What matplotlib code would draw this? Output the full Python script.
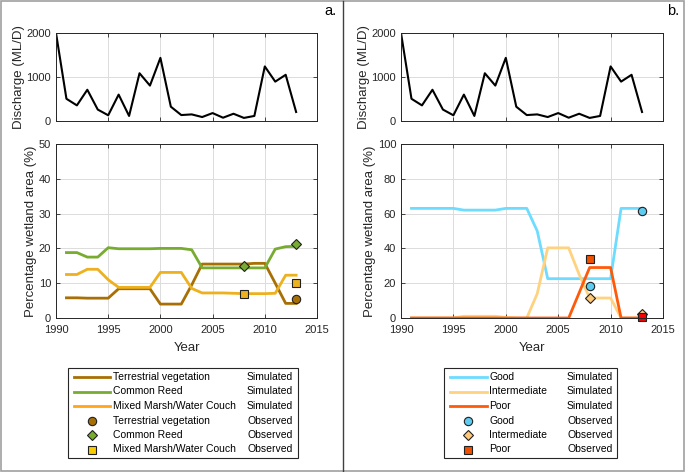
import numpy as np
import matplotlib
matplotlib.use('Agg')
import matplotlib.pyplot as plt
from matplotlib.lines import Line2D
from matplotlib.patches import Rectangle

plt.rcParams['font.family'] = ['Liberation Sans', 'DejaVu Sans']

# discharge, 1990-2013
q_years = np.arange(1990, 2014)
discharge = [2000, 505, 355, 710, 260, 130, 600, 115, 1085, 805, 1435, 325,
             135, 150, 90, 180, 75, 165, 70, 115, 1240, 895, 1050, 205]

# simulated wetland area, 1991-2013
sim_years = np.arange(1991, 2014)
terrestrial = [5.8, 5.8, 5.7, 5.7, 5.7, 8.4, 8.4, 8.4, 8.4, 4.0, 4.0, 4.0,
               9.5, 15.5, 15.5, 15.5, 15.5, 15.5, 15.7, 15.7, 10.0, 4.2, 4.2]
common_reed = [18.8, 18.8, 17.5, 17.5, 20.2, 19.9, 19.9, 19.9, 19.9, 20.0, 20.0, 20.0,
               19.6, 14.4, 14.4, 14.4, 14.4, 14.4, 14.4, 14.4, 19.8, 20.5, 20.6]
mixed_marsh = [12.5, 12.5, 14.0, 14.0, 11.0, 8.8, 8.8, 8.8, 8.8, 13.1, 13.1, 13.1,
               8.5, 7.2, 7.2, 7.2, 7.1, 7.0, 7.0, 7.0, 7.1, 12.3, 12.3]

good = [63, 63, 63, 63, 63, 62, 62, 62, 62, 63, 63, 63,
        50, 22.6, 22.6, 22.6, 22.6, 22.6, 22.6, 22.6, 63, 63, 63]
intermediate = [0, 0, 0, 0, 0, 1, 1, 1, 1, 0.3, 0, 0,
                14, 40.3, 40.3, 40.3, 25, 11.5, 11.5, 11.5, 0, 0, 0]
poor = [0, 0, 0, 0, 0, 0, 0, 0, 0, 0, 0, 0,
        0, 0, 0, 0, 14.5, 29, 29, 29, 0, 0, 0]

# observed
obs_years = [2008, 2013]
obs_terrestrial = [np.nan, 5.4]
obs_reed = [15.0, 21.4]
obs_marsh = [7.0, 10.2]
obs_good = [18.2, 61.4]
obs_intermediate = [11.3, 2.3]
obs_poor = [33.7, 0.5]

c_terr = '#a86f05'
c_reed = '#77ac30'
c_marsh = '#edb120'
c_good = '#6ddcff'
c_inter = '#ffd280'
c_poor = '#ff5a0a'

W, H = 685, 472
fig = plt.figure(figsize=(W / 100, H / 100), dpi=100)


def fax(x0, y0, x1, y1):
    return fig.add_axes([x0 / W, 1 - y1 / H, (x1 - x0) / W, (y1 - y0) / H])


def style(ax):
    ax.tick_params(direction='in', top=True, right=True, labelsize=8,
                   colors='#262626', length=3, width=0.6)
    ax.tick_params(axis='x', pad=5)
    ax.grid(True, color='#dcdcdc', lw=0.7)
    ax.set_axisbelow(True)
    for s in ax.spines.values():
        s.set_color('#262626')
        s.set_linewidth(0.7)
    ax.set_xlim(1990, 2015)
    ax.set_xticks(np.arange(1990, 2016, 5))


panels = [
    (56, 317, 50, 10, [(terrestrial, c_terr), (common_reed, c_reed), (mixed_marsh, c_marsh)]),
    (401, 663, 100, 20, [(good, c_good), (intermediate, c_inter), (poor, c_poor)]),
]
axes = []
for x0, x1, ymax, ystep, sims in panels:
    axq = fax(x0, 33, x1, 121)
    style(axq)
    axq.plot(q_years, discharge, color='k', lw=1.5)
    axq.set_ylim(0, 2000)
    axq.set_yticks([0, 1000, 2000])
    axq.set_xticklabels([])
    axq.set_ylabel('Discharge (ML/D)', fontsize=9.5, color='#262626', labelpad=1)

    axp = fax(x0, 144, x1, 318)
    style(axp)
    for vals, col in sims:
        axp.plot(sim_years, vals, color=col, lw=2)
    axp.set_ylim(0, ymax)
    axp.set_yticks(np.arange(0, ymax + 1, ystep))
    axp.set_xlabel('Year', fontsize=9.5, color='#262626', labelpad=5)
    axp.set_ylabel('Percentage wetland area (%)', fontsize=9.5, color='#262626', labelpad=1)
    axes.append(axp)

ax_a, ax_b = axes
mk = dict(ls='none', mec='#202020', mew=0.8, ms=6, clip_on=False)
ax_a.plot(obs_years, obs_terrestrial, marker='o', mfc=c_terr, **mk)
ax_a.plot(obs_years, obs_reed, marker='D', mfc=c_reed, **dict(mk, ms=5.5))
ax_a.plot(obs_years, obs_marsh, marker='s', mfc=c_marsh, **dict(mk, ms=5.5))

ax_b.plot(obs_years, obs_good, marker='o', mfc='#5ecbf0', **mk)
ax_b.plot(obs_years, obs_intermediate, marker='D', mfc='#ffc878', **dict(mk, ms=5.5))
ax_b.plot(obs_years[:1], obs_poor[:1], marker='s', mfc='#f05000', **dict(mk, ms=5.5))
ax_b.plot(obs_years[1:], obs_poor[1:], marker='s', mfc='#ff0000', **dict(mk, ms=5.5))

fig.text(330 / W, 1 - 11 / H, 'a.', fontsize=10.5, ha='center', va='center')
fig.text(673 / W, 1 - 11 / H, 'b.', fontsize=10.5, ha='center', va='center')


# legends drawn as boxes with two text columns
def legend(box, line_x, mark_x, label_x, status_x, entries):
    x0, y0, x1, y1 = box
    fig.add_artist(Rectangle((x0 / W, 1 - y1 / H), (x1 - x0) / W, (y1 - y0) / H,
                             transform=fig.transFigure, fill=False,
                             ec='#262626', lw=0.8))
    row_y = [377, 391.5, 406, 420.5, 435, 449.5]
    for (name, status, kind, col), y in zip(entries, row_y):
        yy = 1 - y / H
        if kind == 'line':
            fig.add_artist(Line2D([line_x[0] / W, line_x[1] / W], [yy, yy],
                                  transform=fig.transFigure, color=col, lw=2))
        else:
            fig.add_artist(Line2D([mark_x / W], [yy], transform=fig.transFigure,
                                  marker=kind, mfc=col, mec='#202020', mew=0.8,
                                  ms=5.5 if kind != 'o' else 6, ls='none'))
        fig.text(label_x / W, yy, name, fontsize=7.5, va='center', ha='left')
        fig.text(status_x / W, yy, status, fontsize=7.5, va='center', ha='left')


legend((68, 368, 298, 458), (74, 110), 92, 113, 247, [
    ('Terrestrial vegetation', 'Simulated', 'line', c_terr),
    ('Common Reed', 'Simulated', 'line', c_reed),
    ('Mixed Marsh/Water Couch', 'Simulated', 'line', '#ffa51a'),
    ('Terrestrial vegetation', 'Observed', 'o', c_terr),
    ('Common Reed', 'Observed', 'D', c_reed),
    ('Mixed Marsh/Water Couch', 'Observed', 's', '#f7cc00'),
])
legend((444, 368, 617, 458), (450, 487), 468, 489, 567, [
    ('Good', 'Simulated', 'line', c_good),
    ('Intermediate', 'Simulated', 'line', c_inter),
    ('Poor', 'Simulated', 'line', c_poor),
    ('Good', 'Observed', 'o', '#5ecbf0'),
    ('Intermediate', 'Observed', 'D', '#ffc878'),
    ('Poor', 'Observed', 's', '#f05000'),
])

# outer frame and divider
fig.add_artist(Rectangle((1 / W, 1 / H), (W - 2) / W, (H - 2) / H,
                         transform=fig.transFigure, fill=False, ec='#a0a0a0', lw=1.2))
fig.add_artist(Line2D([343 / W, 343 / W], [1 / H, 1 - 1 / H],
                      transform=fig.transFigure, color='#404040', lw=1))

fig.savefig('out.png', dpi=100)
